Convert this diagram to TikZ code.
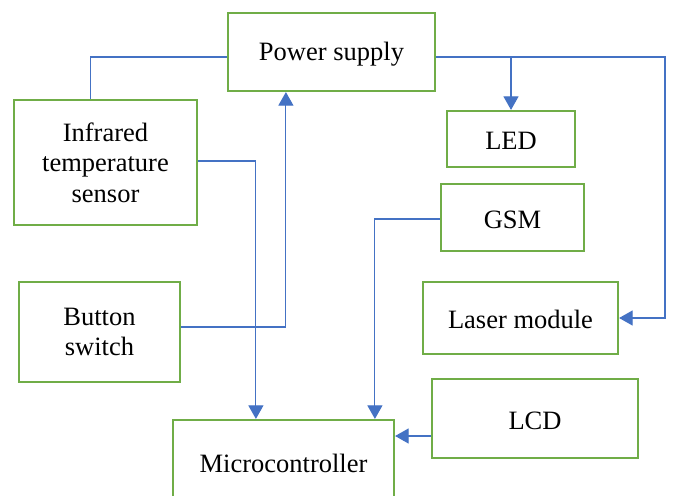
\documentclass[tikz,border=0pt]{standalone}
\usepackage{fontspec}
\setmainfont{Liberation Serif}
\usetikzlibrary{arrows.meta,calc}
\definecolor{boxgreen}{HTML}{70AD47}
\definecolor{wireblue}{HTML}{4472C4}
\begin{document}
\begin{tikzpicture}[x=1pt,y=-1pt,
  box/.style={draw=boxgreen,line width=2.2pt,fill=white,align=center,inner sep=0pt,
    font=\fontsize{26.5}{30.5}\selectfont,execute at begin node={\rule{0pt}{22pt}}},
  wire/.style={draw=wireblue,line width=1.1pt},
  arr/.style={wire,-{Triangle[length=13.5pt,width=15pt]}}]
\clip (0,0) rectangle (676,495);
\fill[white] (0,0) rectangle (676,495);
\node[box,minimum width=207pt,minimum height=78pt] (ps) at (331.5,52) {Power supply};
\node[box,minimum width=183pt,minimum height=125pt] (ir) at (105.5,162.5) {Infrared\\temperature\\sensor};
\node[box,minimum width=128pt,minimum height=56pt] (led) at (511,139) {LED};
\node[box,minimum width=143pt,minimum height=67pt] (gsm) at (512.5,217.5) {GSM};
\node[box,minimum width=161pt,minimum height=100pt] (bs) at (99.5,332) {Button\\switch};
\node[box,minimum width=195pt,minimum height=72pt] (lm) at (520.5,318) {Laser module};
\node[box,minimum width=206pt,minimum height=79pt] (lcd) at (535,418.5) {LCD};
\node[box,minimum width=221pt,minimum height=84pt] (mc) at (283.5,462) {Microcontroller};
\coordinate (rc) at (665,57);
% power distribution
\draw[wire] ([xshift=78pt]ir.north west) |- ([yshift=-5pt]ps.west);
\draw[arr] ([yshift=-5pt]ps.east) -- (rc) |- (lm.east);
\draw[arr] (led.north |- rc) -- (led.north);
\draw[arr] ([yshift=5pt]bs.east) -| ([xshift=59pt]ps.south west);
% signals to microcontroller
\draw[arr] ([yshift=1.5pt]ir.east) -| ([xshift=84pt]mc.north west);
\draw[arr] ([yshift=-1.5pt]gsm.west) -| ([xshift=203pt]mc.north west);
\draw[arr] ([yshift=-17.5pt]lcd.west) -- ([yshift=-17.5pt]lcd.west -| mc.east);
\end{tikzpicture}
\end{document}
